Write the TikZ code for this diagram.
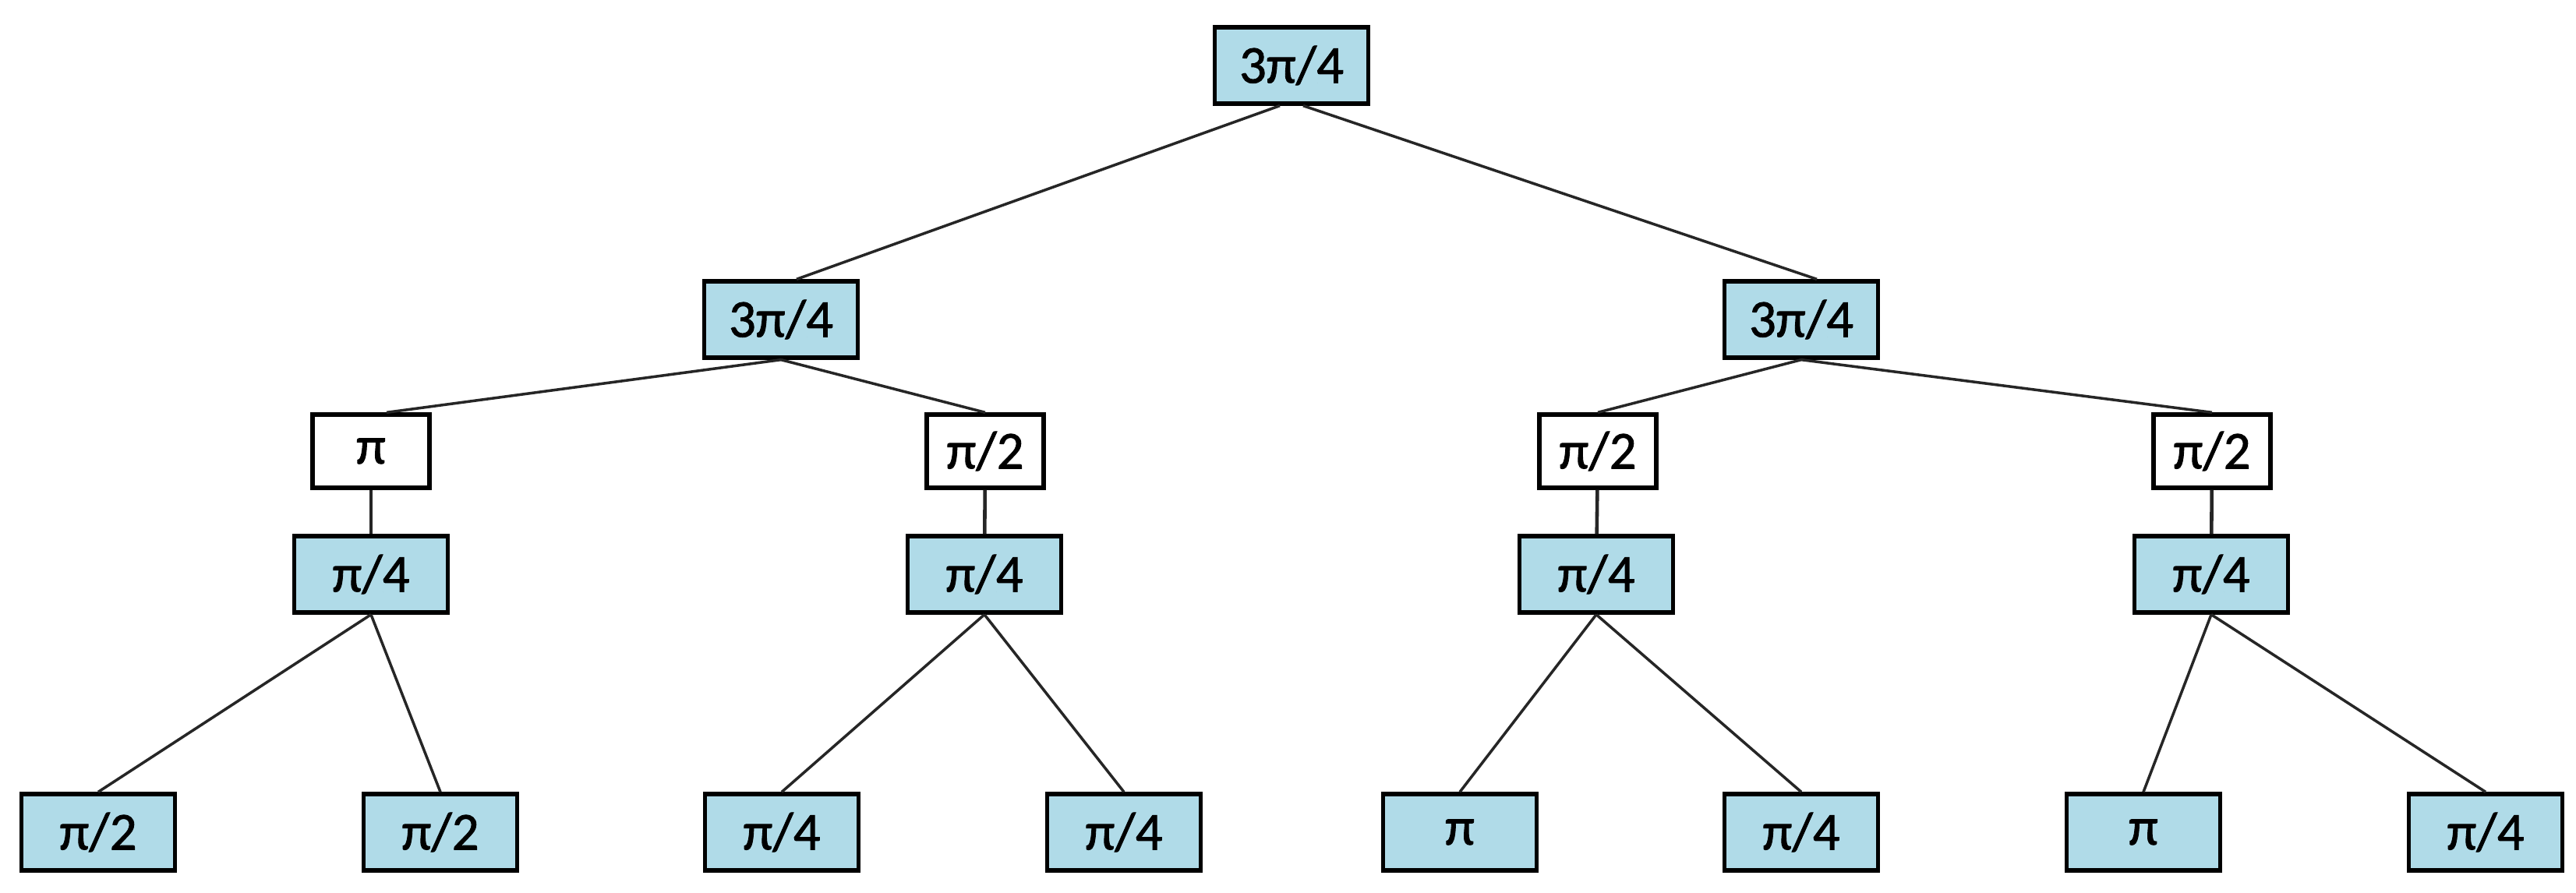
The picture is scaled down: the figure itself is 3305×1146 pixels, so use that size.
\documentclass[tikz,border=0pt]{standalone}
\usepackage{fontspec}
\setmainfont{Carlito}
\newfontfamily\nodefont[FakeBold=1.3]{Carlito}
\definecolor{boxblue}{RGB}{176,219,232}
\begin{document}
\begin{tikzpicture}[
  x=0.01cm,y=-0.01cm,
  base/.style={draw=black,line width=1.5pt,inner sep=0pt,font=\nodefont\fontsize{19.5}{22}\selectfont,text=black},
  bluebox/.style={base,fill=boxblue,minimum width=1.97cm,minimum height=0.98cm},
  whitebox/.style={base,fill=white,minimum width=1.5cm,minimum height=0.94cm},
  edge/.style={draw=black!85,line width=1pt}
]
\useasboundingbox (0,0) rectangle (3305,1146);
% root
\node[bluebox] (r) at (1657,84) {3π/4};
% level 1
\node[bluebox] (a) at (1002,410) {3π/4};
\node[bluebox] (b) at (2311,410) {3π/4};
% level 2 (white)
\node[whitebox] (a1) at (476,579) {π};
\node[whitebox] (a2) at (1264,579) {π/2};
\node[whitebox] (b1) at (2050,579) {π/2};
\node[whitebox] (b2) at (2838,579) {π/2};
% level 3
\node[bluebox] (c1) at (476,737) {π/4};
\node[bluebox] (c2) at (1263,737) {π/4};
\node[bluebox] (c3) at (2048,737) {π/4};
\node[bluebox] (c4) at (2837,737) {π/4};
% leaves
\node[bluebox] (l1) at (126,1068) {π/2};
\node[bluebox] (l2) at (565,1068) {π/2};
\node[bluebox] (l3) at (1003,1068) {π/4};
\node[bluebox] (l4) at (1442,1068) {π/4};
\node[bluebox] (l5) at (1873,1068) {π};
\node[bluebox] (l6) at (2311,1068) {π/4};
\node[bluebox] (l7) at (2750,1068) {π};
\node[bluebox] (l8) at (3189,1068) {π/4};
% edges
\draw[edge] ([xshift=-0.15cm]r.south) -- ([xshift=0.2cm]a.north);
\draw[edge] ([xshift=0.15cm]r.south) -- ([xshift=0.2cm]b.north);
\draw[edge] (a.south) -- ([xshift=0.2cm]a1.north);
\draw[edge] (a.south) -- (a2.north);
\draw[edge] (b.south) -- (b1.north);
\draw[edge] (b.south) -- (b2.north);
\draw[edge,line width=1.3pt] (a1) -- (c1);
\draw[edge,line width=1.3pt] (a2) -- (c2);
\draw[edge,line width=1.3pt] (b1) -- (c3);
\draw[edge,line width=1.3pt] (b2) -- (c4);
\draw[edge] (c1.south) -- (l1.north);
\draw[edge] (c1.south) -- (l2.north);
\draw[edge] (c2.south) -- (l3.north);
\draw[edge] (c2.south) -- (l4.north);
\draw[edge] (c3.south) -- (l5.north);
\draw[edge] (c3.south) -- (l6.north);
\draw[edge] (c4.south) -- (l7.north);
\draw[edge] (c4.south) -- (l8.north);
\end{tikzpicture}
\end{document}
